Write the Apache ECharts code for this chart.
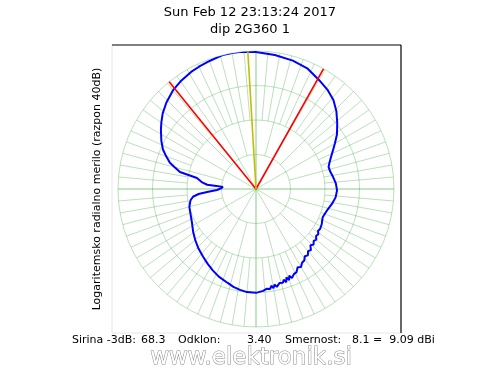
<!DOCTYPE html>
<html>
<head>
<meta charset="utf-8">
<script src="https://cdn.jsdelivr.net/npm/echarts@6/dist/echarts.min.js"></script>
<style>
  html, body { margin: 0; padding: 0; background: #fff; }
  #chart { width: 500px; height: 375px; }
</style>
</head>
<body>
<div id="chart"></div>
<script>
// pattern angles (deg, 0 = up, clockwise) and relative gain (dB)
var patternAngle = [0, 8, 16, 23, 30, 36, 41, 46, 51, 56, 60, 64, 67, 70, 73, 77, 81, 86, 91, 96, 100, 106, 110, 113,
  116, 118, 120, 122, 124, 126, 128, 130, 132, 134, 136, 138, 140, 142, 144, 146, 148, 150, 152, 154, 156, 158,
  159, 160, 161, 162, 163, 164, 166, 168, 169, 170, 171, 172, 174, 176, 180, 185, 189, 193, 197, 203, 208, 213, 218, 224, 230, 236, 242,
  248, 255, 260, 263, 265, 266.5, 268.5, 271, 273.5, 274.5, 275, 277, 280.5, 282.6, 285, 287, 290, 293, 297,
  302, 305, 309, 314, 320, 325, 331, 335, 339, 343, 346, 350, 353, 357, 360];
var patternGain = [-0.3, -0.8, -1.3, -2.0, -3.5, -4.6, -5.8, -7.6, -9.7, -11.7, -13.6, -15.3, -16.4, -17.3, -18.0, -17.9, -17.4, -16.8, -16.5, -16.8, -17.4, -18.4, -18.8, -19.0,
  -18.7, -18.4, -18.6, -18.1, -18.3, -17.7, -17.9, -17.2, -17.5, -16.8, -17.3, -16.2, -16.5, -15.6, -15.9, -15.0, -14.8, -13.9, -14.3, -13.2, -13.0, -12.2,
  -13.1, -11.9, -12.9, -11.6, -12.5, -11.7, -11.9, -11.0, -11.8, -10.8, -11.6, -10.7, -10.9, -10.4, -9.9, -10.0, -10.4, -10.9, -11.6, -12.4, -13.3, -14.2, -15.1, -16.0, -17.0, -18.0, -19.0,
  -19.6, -20.0, -20.7, -21.6, -23.3, -25.8, -28.7, -29.8, -30.4, -28.5, -25.8, -24.3, -22.6, -17.4, -15.6, -13.9, -12.3, -10.7, -9.2,
  -7.5, -6.5, -5.2, -3.9, -2.6, -1.9, -1.2, -0.9, -0.6, -0.3, 0, 0, 0, -0.2, -0.3];

// -3 dB beam edges and main direction
var beamEdges = [-39.0, 29.3];
var beamDirection = -3.4;
var lineTip = [1.2, 1.8];

// grid spokes per ring band: [from dB, to dB, step deg]
var spokeFrom = [-40, -30, -20];
var spokeTo = [-30, -20, 0];
var spokeStep = [30, 15, 5];

var titleLines = ['Sun Feb 12 23:13:24 2017', 'dip 2G360 1'];
var yLabel = 'Logaritemsko radialno merilo (razpon 40dB)';
var footer = ['Sirina -3dB:', '68.3', 'Odklon:', '3.40', 'Smernost:', '8.1 =  9.09 dBi'];
var footerX = [72, 141, 178, 247, 285, 352];

var font = '"DejaVu Sans", sans-serif';
var gridColor = 'rgba(60,170,60,0.35)';

var spokeData = [];
var axisSpokes = [];
for (var b = 0; b < spokeFrom.length; b++) {
  for (var a = 0; a < 360; a += spokeStep[b]) {
    var target = a % 90 === 0 ? axisSpokes : spokeData;
    target.push([spokeFrom[b], a], [spokeTo[b], a], ['-', '-']);
  }
}

var patternData = patternAngle.map(function (ang, i) { return [patternGain[i], ang]; });
var beamData = [];
beamEdges.forEach(function (ang) {
  beamData.push([-40, ang], [lineTip[0], ang], ['-', '-']);
});

var chart = echarts.init(document.getElementById('chart'), null, { renderer: 'canvas' });
chart.setOption({
  animation: false,
  backgroundColor: '#fff',
  polar: { center: [256, 189], radius: 138 },
  angleAxis: {
    type: 'value', min: 0, max: 360, startAngle: 90, clockwise: true,
    axisLine: { show: false }, axisTick: { show: false }, axisLabel: { show: false },
    splitLine: { show: false }
  },
  radiusAxis: {
    type: 'value', min: -40, max: 0, interval: 10,
    axisLine: { show: false }, axisTick: { show: false }, axisLabel: { show: false },
    splitLine: { show: true, lineStyle: { color: gridColor, width: 1 } }
  },
  graphic: [
    { type: 'text', left: 'center', top: 6, style: { text: titleLines[0], font: '13px ' + font, fill: '#000' } },
    { type: 'text', left: 'center', top: 23, style: { text: titleLines[1], font: '13px ' + font, fill: '#000' } },
    { type: 'text', x: 97, y: 189, rotation: Math.PI / 2, originX: 0, originY: 0,
      style: { text: yLabel, font: '11px ' + font, fill: '#000', align: 'center', verticalAlign: 'middle' } },
    { type: 'line', shape: { x1: 112, y1: 45, x2: 112, y2: 333 }, style: { stroke: '#e6e6e6', lineWidth: 1 } },
    { type: 'line', shape: { x1: 112, y1: 333, x2: 401, y2: 333 }, style: { stroke: '#e6e6e6', lineWidth: 1 } },
    { type: 'line', shape: { x1: 112, y1: 45, x2: 401, y2: 45 }, style: { stroke: '#000', lineWidth: 1.2 } },
    { type: 'line', shape: { x1: 401, y1: 45, x2: 401, y2: 333 }, style: { stroke: '#000', lineWidth: 1.2 } }
  ].concat(footer.map(function (t, i) {
    return { type: 'text', x: footerX[i], y: 340,
      style: { text: t, font: '11px ' + font, fill: '#000', verticalAlign: 'middle' } };
  })).concat([
    { type: 'text', x: 251, y: 358,
      style: { text: 'www.elektronik.si', font: '23px ' + font, fill: '#fff', stroke: '#8a8a8a', lineWidth: 1,
        align: 'center', verticalAlign: 'middle' } }
  ]),
  series: [
    { type: 'line', coordinateSystem: 'polar', data: spokeData, symbol: 'none', silent: true,
      connectNulls: false, lineStyle: { color: gridColor, width: 1 } },
    { type: 'line', coordinateSystem: 'polar', data: axisSpokes, symbol: 'none', silent: true,
      connectNulls: false, lineStyle: { color: 'rgba(60,170,60,0.3)', width: 2 } },
    { type: 'line', coordinateSystem: 'polar', data: patternData, symbol: 'none', clip: false,
      lineStyle: { color: '#0000ff', width: 2 } },
    { type: 'line', coordinateSystem: 'polar', data: beamData, symbol: 'none', clip: false,
      connectNulls: false, lineStyle: { color: '#ff0000', width: 1.6 } },
    { type: 'line', coordinateSystem: 'polar', data: [[-40, beamDirection], [lineTip[1], beamDirection]],
      symbol: 'none', clip: false, lineStyle: { color: '#c0c000', width: 1.6 } }
  ]
});
</script>
</body>
</html>
